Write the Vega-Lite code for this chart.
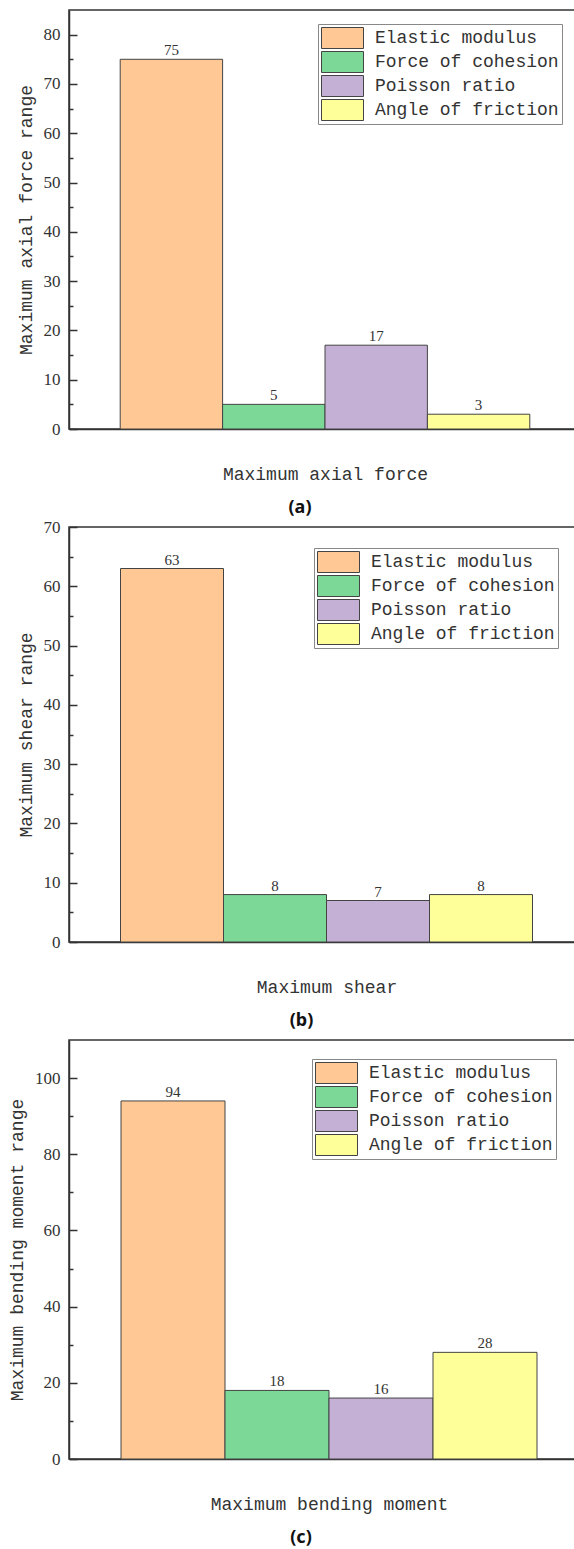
{
  "$schema": "https://vega.github.io/schema/vega-lite/v6.json",
  "padding": {"left": 7, "top": 9, "right": 0, "bottom": 0},
  "background": "white",
  "data": {"values": [
    {"panel": "a", "param": "Elastic modulus", "value": 75},
    {"panel": "a", "param": "Force of cohesion", "value": 5},
    {"panel": "a", "param": "Poisson ratio", "value": 17},
    {"panel": "a", "param": "Angle of friction", "value": 3},
    {"panel": "b", "param": "Elastic modulus", "value": 63},
    {"panel": "b", "param": "Force of cohesion", "value": 8},
    {"panel": "b", "param": "Poisson ratio", "value": 7},
    {"panel": "b", "param": "Angle of friction", "value": 8},
    {"panel": "c", "param": "Elastic modulus", "value": 94},
    {"panel": "c", "param": "Force of cohesion", "value": 18},
    {"panel": "c", "param": "Poisson ratio", "value": 16},
    {"panel": "c", "param": "Angle of friction", "value": 28}
  ]},
  "bounds": "flush",
  "spacing": 98,
  "resolve": {"scale": {"x": "independent", "y": "independent", "color": "independent"}, "legend": {"color": "independent"}},
  "vconcat": [
    {
      "width": 512, "height": 419,
      "transform": [{"filter": "datum.panel === 'a'"}],
      "title": {"text": "(a)", "orient": "bottom", "dx": -25, "offset": 16},
      "encoding": {
        "x": {"field": "param", "type": "nominal", "sort": null,
          "scale": {"domain": ["Elastic modulus", "Force of cohesion", "Poisson ratio", "Angle of friction"], "paddingInner": 0, "paddingOuter": 0.5, "align": 0.5},
          "axis": {"title": "Maximum axial force", "labels": false, "ticks": false, "titlePadding": 36}},
        "y": {"field": "value", "type": "quantitative",
          "scale": {"domain": [0, 85], "nice": false},
          "axis": {"title": "Maximum axial force range", "values": [0,5,10,15,20,25,30,35,40,45,50,55,60,65,70,75,80],
            "labelExpr": "datum.value % 10 === 0 ? datum.label : ''",
            "tickSize": {"condition": {"test": "datum.value % 10 === 0", "value": -8}, "value": -4},
            "labelPadding": 17, "titlePadding": 8}}
      },
      "layer": [
        {"mark": {"type": "bar", "stroke": "#444", "strokeWidth": 1, "opacity": 1},
         "encoding": {"color": {"field": "param", "type": "nominal",
           "scale": {"domain": ["Elastic modulus", "Force of cohesion", "Poisson ratio", "Angle of friction"], "range": ["#FFC894", "#7BD897", "#C5B0D5", "#FFFF99"]},
           "legend": {"orient": "none", "legendX": 249, "legendY": 14}}}},
        {"mark": {"type": "text", "baseline": "bottom", "dy": -1, "font": "Liberation Serif", "fontSize": 15, "color": "#333"},
         "encoding": {"text": {"field": "value", "type": "quantitative"}}}
      ]
    },
    {
      "width": 515, "height": 415,
      "transform": [{"filter": "datum.panel === 'b'"}],
      "title": {"text": "(b)", "orient": "bottom", "dx": -25, "offset": 16},
      "encoding": {
        "x": {"field": "param", "type": "nominal", "sort": null,
          "scale": {"domain": ["Elastic modulus", "Force of cohesion", "Poisson ratio", "Angle of friction"], "paddingInner": 0, "paddingOuter": 0.5, "align": 0.5},
          "axis": {"title": "Maximum shear", "labels": false, "ticks": false, "titlePadding": 36}},
        "y": {"field": "value", "type": "quantitative",
          "scale": {"domain": [0, 70], "nice": false},
          "axis": {"title": "Maximum shear range", "values": [0,5,10,15,20,25,30,35,40,45,50,55,60,65,70],
            "labelExpr": "datum.value % 10 === 0 ? datum.label : ''",
            "tickSize": {"condition": {"test": "datum.value % 10 === 0", "value": -8}, "value": -4},
            "labelPadding": 17, "titlePadding": 8}}
      },
      "layer": [
        {"mark": {"type": "bar", "stroke": "#444", "strokeWidth": 1, "opacity": 1},
         "encoding": {"color": {"field": "param", "type": "nominal",
           "scale": {"domain": ["Elastic modulus", "Force of cohesion", "Poisson ratio", "Angle of friction"], "range": ["#FFC894", "#7BD897", "#C5B0D5", "#FFFF99"]},
           "legend": {"orient": "none", "legendX": 245, "legendY": 21}}}},
        {"mark": {"type": "text", "baseline": "bottom", "dy": -1, "font": "Liberation Serif", "fontSize": 15, "color": "#333"},
         "encoding": {"text": {"field": "value", "type": "quantitative"}}}
      ]
    },
    {
      "width": 520, "height": 419,
      "transform": [{"filter": "datum.panel === 'c'"}],
      "title": {"text": "(c)", "orient": "bottom", "dx": -28, "offset": 16},
      "encoding": {
        "x": {"field": "param", "type": "nominal", "sort": null,
          "scale": {"domain": ["Elastic modulus", "Force of cohesion", "Poisson ratio", "Angle of friction"], "paddingInner": 0, "paddingOuter": 0.5, "align": 0.5},
          "axis": {"title": "Maximum bending moment", "labels": false, "ticks": false, "titlePadding": 36}},
        "y": {"field": "value", "type": "quantitative",
          "scale": {"domain": [0, 110], "nice": false},
          "axis": {"title": "Maximum bending moment range", "values": [0,10,20,30,40,50,60,70,80,90,100],
            "labelExpr": "datum.value % 20 === 0 ? datum.label : ''",
            "tickSize": {"condition": {"test": "datum.value % 20 === 0", "value": -8}, "value": -4},
            "labelPadding": 17, "titlePadding": 8}}
      },
      "layer": [
        {"mark": {"type": "bar", "stroke": "#444", "strokeWidth": 1, "opacity": 1},
         "encoding": {"color": {"field": "param", "type": "nominal",
           "scale": {"domain": ["Elastic modulus", "Force of cohesion", "Poisson ratio", "Angle of friction"], "range": ["#FFC894", "#7BD897", "#C5B0D5", "#FFFF99"]},
           "legend": {"orient": "none", "legendX": 243, "legendY": 19}}}},
        {"mark": {"type": "text", "baseline": "bottom", "dy": -1, "font": "Liberation Serif", "fontSize": 15, "color": "#333"},
         "encoding": {"text": {"field": "value", "type": "quantitative"}}}
      ]
    }
  ],
  "config": {
    "view": {"stroke": "#333", "strokeWidth": 1.5},
    "axis": {"grid": false, "domainColor": "#333", "domainWidth": 1.5, "tickColor": "#333", "tickWidth": 1.5,
      "labelFont": "Liberation Serif", "labelFontSize": 17, "labelColor": "#333",
      "titleFont": "Liberation Mono", "titleFontSize": 18, "titleFontWeight": "normal", "titleColor": "#333"},
    "legend": {"title": null, "labelFont": "Liberation Mono", "labelFontSize": 18, "labelColor": "#333",
      "symbolType": "M-1,-0.5H1V0.5H-1Z", "symbolSize": 1764, "clipHeight": 22, "symbolStrokeColor": "#444", "symbolStrokeWidth": 1, "symbolOpacity": 1,
      "labelOffset": 11, "rowPadding": 2, "padding": 3, "strokeColor": "#888", "fillColor": "white", "labelLimit": 400},
    "title": {"font": "Noto Sans", "fontSize": 18, "fontWeight": "bold", "color": "#111", "anchor": "middle"}
  }
}
